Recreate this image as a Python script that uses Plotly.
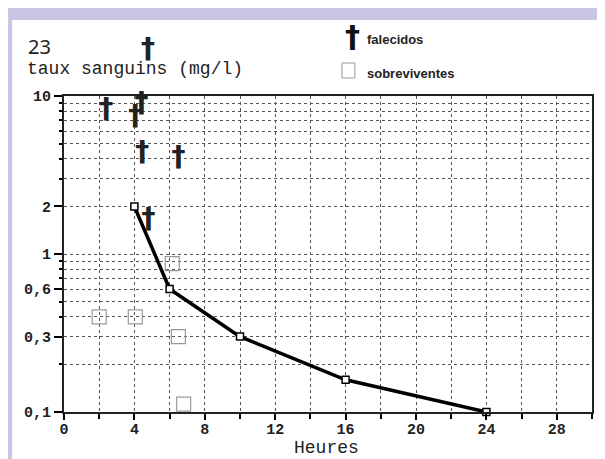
import math
import plotly.graph_objects as go

# ---- data ----
curve_hours = [4, 6, 10, 16, 24]
curve_levels = [2.0, 0.6, 0.3, 0.16, 0.1]

deceased_hours = [2.4, 4.4, 4.05, 4.45, 6.5, 4.8]
deceased_levels = [8.0, 8.8, 7.3, 4.3, 4.0, 1.62]
# one deceased patient drawn above the chart's range (row labelled "23")
deceased_high_hour = 4.75
deceased_high_level = 20

survivor_hours = [2.0, 4.05, 6.5, 2.7, 6.8, 6.15]
survivor_levels = [0.40, 0.40, 0.30, 0.095, 0.112, 0.87]

x_range = [0, 30]
y_range_log = [-1, 1]
x_major = [0, 4, 8, 12, 16, 20, 24, 28]
y_major = [0.1, 0.3, 0.6, 1, 2, 10]
y_major_text = ["0,1", "0,3", "0,6", "1", "2", "10"]
y_minor = [0.2, 0.4, 0.5, 0.7, 0.8, 0.9, 3, 4, 5, 6, 7, 8, 9]

# ---- layout geometry (pixels of the 605x459 window; page body has an 8px margin) ----
OFF = 8
W, H = 605 - OFF, 459 - OFF
L, R, T, B = 64 - OFF, 594 - OFF, 96 - OFF, 412 - OFF
def px(x):
    return (x - OFF - L) / (R - L)
def py(y):
    return (B - (y - OFF)) / (B - T)

def data_to_paper_x(v):
    return (v - x_range[0]) / (x_range[1] - x_range[0])
def data_to_paper_ylog(v):
    return (math.log10(v) - y_range_log[0]) / (y_range_log[1] - y_range_log[0])

LAV = "#c9c6e3"
GRID = "#555555"
MONO = "Liberation Mono, Courier New, monospace"
SANS = "Liberation Sans, Arial, sans-serif"
DAG = "DejaVu Sans, sans-serif"

fig = go.Figure()

fig.add_trace(go.Scatter(
    x=survivor_hours, y=survivor_levels, mode="markers",
    marker=dict(symbol="square-open", size=14, color="#9a9a9a", line=dict(width=1.2)),
    showlegend=False, cliponaxis=False))

fig.add_trace(go.Scatter(
    x=curve_hours, y=curve_levels, mode="lines+markers",
    line=dict(color="black", width=3.5),
    marker=dict(symbol="square", size=7, color="white", line=dict(color="black", width=1.5)),
    showlegend=False, cliponaxis=False))

fig.add_trace(go.Scatter(
    x=deceased_hours, y=deceased_levels, mode="text",
    text=["†"] * len(deceased_hours), textposition="middle center",
    textfont=dict(family=DAG, size=28, color="#222222", weight="bold"),
    showlegend=False, cliponaxis=False))

shapes = [
    dict(type="rect", xref="paper", yref="paper", x0=px(5), x1=px(620), y0=py(20), y1=py(8),
         fillcolor=LAV, line=dict(width=0), layer="below"),
    dict(type="rect", xref="paper", yref="paper", x0=px(5), x1=px(12), y0=py(470), y1=py(8),
         fillcolor=LAV, line=dict(width=0), layer="below"),
    dict(type="rect", xref="paper", yref="paper", x0=px(343), x1=px(356), y0=py(78), y1=py(63),
         fillcolor="white", line=dict(color="#9a9a9a", width=1)),
]

annotations = [
    dict(text="†", x=data_to_paper_x(deceased_high_hour), y=data_to_paper_ylog(deceased_high_level),
         xref="paper", yref="paper", xanchor="center", yanchor="middle", showarrow=False,
         font=dict(family=DAG, size=28, color="#222", weight="bold")),
    dict(text="23", x=px(26), y=py(46), xref="paper", yref="paper", xanchor="left", yanchor="middle",
         showarrow=False, font=dict(family="Noto Sans, Open Sans, sans-serif", size=20, color="#222")),
    dict(text="taux sanguins (mg/l)", x=px(25), y=py(69), xref="paper", yref="paper",
         xanchor="left", yanchor="middle", showarrow=False,
         font=dict(family=MONO, size=18, color="#222")),
    dict(text="†", x=px(354), y=py(37), xref="paper", yref="paper", xanchor="center", yanchor="middle",
         showarrow=False, font=dict(family=DAG, size=30, color="#111", weight="bold")),
    dict(text="falecidos", x=px(366), y=py(40), xref="paper", yref="paper", xanchor="left", yanchor="middle",
         showarrow=False, font=dict(family=SANS, size=13, color="#222", weight="bold")),
    dict(text="sobreviventes", x=px(366), y=py(73), xref="paper", yref="paper", xanchor="left",
         yanchor="middle", showarrow=False, font=dict(family=SANS, size=13, color="#222", weight="bold")),
    dict(text="Heures", x=px(327), y=py(448), xref="paper", yref="paper", xanchor="center",
         yanchor="middle", showarrow=False, font=dict(family=MONO, size=18, color="#222")),
]

fig.update_layout(
    width=W, height=H,
    margin=dict(l=L, r=W - R, t=T, b=H - B),
    paper_bgcolor="white", plot_bgcolor="white",
    shapes=shapes, annotations=annotations,
    xaxis=dict(
        range=x_range, tickvals=x_major, ticks="outside", ticklen=6, tickwidth=1.5, tickcolor="black",
        showline=True, linecolor="#222", linewidth=2, mirror=True,
        showgrid=True, gridcolor=GRID, griddash="dot", gridwidth=1,
        minor=dict(dtick=2, tick0=0, ticks="outside", ticklen=5, tickcolor="black",
                   showgrid=True, gridcolor=GRID, griddash="dot", gridwidth=1),
        tickfont=dict(family=MONO, size=15, color="#222", weight="bold"),
        ticklabelstandoff=-4,
        zeroline=False, fixedrange=True,
    ),
    yaxis=dict(
        type="log", range=y_range_log, tickvals=y_major, ticktext=y_major_text,
        ticks="outside", ticklen=8, tickwidth=1.5, tickcolor="black",
        showline=True, linecolor="#222", linewidth=2, mirror=True,
        showgrid=True, gridcolor=GRID, griddash="dot", gridwidth=1,
        minor=dict(tickvals=y_minor, ticks="outside", ticklen=3, tickcolor="black",
                   showgrid=True, gridcolor=GRID, griddash="dot", gridwidth=1),
        tickfont=dict(family=MONO, size=15, color="#222", weight="bold"),
        zeroline=False, fixedrange=True,
    ),
)

fig.write_html("out.html")
